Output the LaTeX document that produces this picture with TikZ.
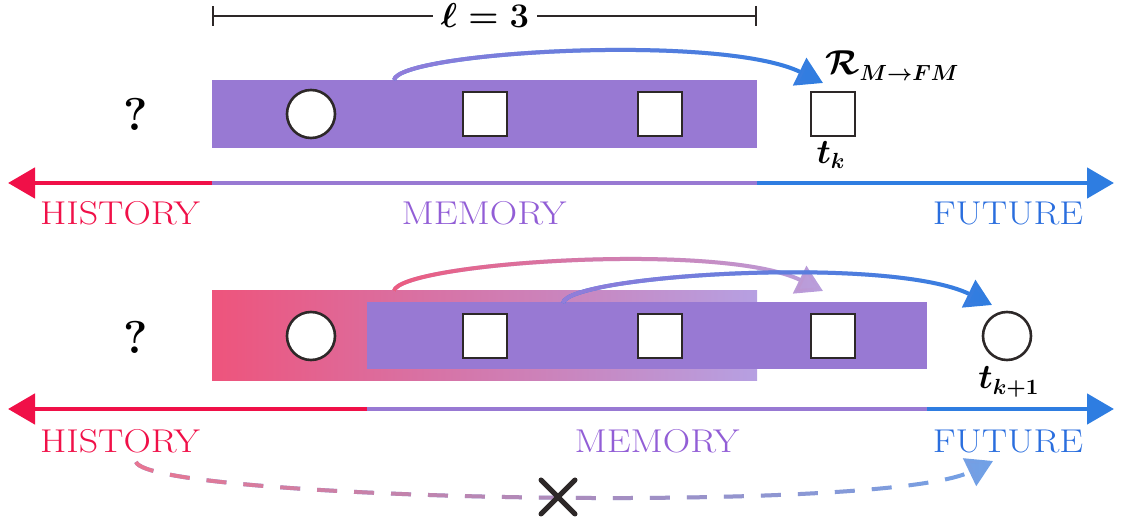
\documentclass[tikz,border=0pt]{standalone}
\usepackage{amsmath,amssymb}
\usetikzlibrary{arrows.meta,fadings,calc}
\definecolor{cred}{RGB}{240,16,72}
\definecolor{cpurple}{RGB}{152,121,211}
\definecolor{cpurpleA}{RGB}{148,126,218}
\definecolor{cblue}{RGB}{46,125,225}
\definecolor{cmemtxt}{RGB}{146,94,214}
\definecolor{cfuttxt}{RGB}{42,110,222}
\definecolor{cpink}{RGB}{236,92,128}
\definecolor{clilac}{RGB}{184,160,222}
\definecolor{cstroke}{RGB}{45,40,40}
\definecolor{gradL}{RGB}{238,84,124}
\definecolor{gradR}{RGB}{182,160,226}
\definecolor{dashL}{RGB}{233,118,146}
\definecolor{dashR}{RGB}{112,162,232}
\tikzfading[name=fadeoutright, left color=transparent!0, middle color=transparent!30, right color=transparent!100]
\newcommand{\wlbl}[1]{\scalebox{1.15}[1]{#1}}
\begin{document}
\begin{tikzpicture}[x=0.5pt,y=-0.5pt,
  sq/.style={rectangle,draw=cstroke,fill=white,line width=1.3pt,minimum size=22pt,inner sep=0pt},
  circ/.style={circle,draw=cstroke,fill=white,line width=1.3pt,minimum size=24pt,inner sep=0pt},
  band/.style={rectangle,inner sep=0pt,draw=none},
  lbl/.style={font=\fontsize{16.5}{20}\selectfont,inner sep=0pt},
  mathlbl/.style={font=\fontsize{16}{19}\selectfont\boldmath,inner sep=0pt},
  qmark/.style={font=\fontsize{23}{26}\selectfont\bfseries,inner sep=0pt},
  axisline/.style={line width=2.4pt},
  axtip/.style={-{Triangle[length=13.5pt,width=15pt]}},
  axtipL/.style={{Triangle[length=13.5pt,width=15pt]}-},
  bigtip/.style={-{Triangle[length=13pt,width=15pt]}},
  curv/.style={line width=2pt},
  fadecurv/.style={line width=2pt,path fading=fadeoutright},
  bracket/.style={line width=1.2pt,draw=cstroke},
  dashy/.style={dash pattern=on 10pt off 8.5pt},
]
\useasboundingbox (0,0) rectangle (1121,523);

% ---------------- top panel ----------------
\node[mathlbl,inner xsep=4pt] (ell) at (485,16) {$\ell = 3$};
\coordinate (brL) at (212,16);
\coordinate (brR) at (757,16);
\draw[bracket,{Bar[width=10pt]}-] (brL) -- (ell.west);
\draw[bracket,-{Bar[width=10pt]}] (ell.east) -- (brR);

\node[band,fill=cpurple,minimum width=272.5pt,minimum height=34pt] (mem1) at (484.5,114) {};
\node[qmark] (q1) at (136,114) {?};
\node[circ] (c1) at (311,114) {};
\node[sq] (s11) at (485,114) {};
\node[sq] (s12) at (660,114) {};
\node[sq] (s13) at (833,114) {};
\node[mathlbl] (tk) at (831,155) {$t_k$};
\node[mathlbl,anchor=base west] (rlab) at (825,75) {$\mathcal{R}_{M\to FM}$};

\coordinate (a1s) at (394,80);
\coordinate (a1e) at (823,83);
\draw[curv,cblue,bigtip] (a1s) .. controls +(5,-28) and +(-103,-50) .. (a1e);
\draw[fadecurv,cpurpleA,bigtip] (a1s) .. controls +(5,-28) and +(-103,-50) .. (a1e);

% axis 1
\coordinate (x1L) at (8,183);
\coordinate (x1a) at (212,183);
\coordinate (x1b) at (757,183);
\coordinate (x1R) at (1114,183);
\draw[axisline,cred,axtipL] (x1L) -- (x1a);
\draw[axisline,cpurple] (x1a) -- (x1b);
\draw[axisline,cblue,axtip] (x1b) -- (x1R);
\node[lbl,text=cred] (h1) at (120,213) {\wlbl{HISTORY}};
\node[lbl,text=cmemtxt] (m1) at (484,213) {\wlbl{MEMORY}};
\node[lbl,text=cfuttxt] (f1) at (1008,213) {\wlbl{FUTURE}};

% ---------------- bottom panel ----------------
\node[band,left color=gradL,right color=gradR,minimum width=272.5pt,minimum height=45pt] (hist2) at (484.5,336) {};
\node[band,fill=cpurple,minimum width=280pt,minimum height=33.5pt] (mem2) at (647,335.5) {};
\node[qmark] (q2) at (136,337) {?};
\node[circ] (c21) at (311,336) {};
\node[sq] (s21) at (485,336) {};
\node[sq] (s22) at (660,336) {};
\node[sq] (s23) at (833,336) {};
\node[circ] (c22) at (1007,336) {};
\node[mathlbl] (tk1) at (1009,382) {$t_{k+1}$};

\coordinate (a2s) at (394,291);
\coordinate (a2e) at (823,291);
\draw[curv,clilac,bigtip] (a2s) .. controls +(5,-28) and +(-103,-50) .. (a2e);
\draw[fadecurv,cpink,bigtip] (a2s) .. controls +(5,-28) and +(-103,-50) .. (a2e);

\coordinate (a3s) at (563,303);
\coordinate (a3e) at (992,305);
\draw[curv,cblue,bigtip] (a3s) .. controls +(5,-28) and +(-103,-50) .. (a3e);
\draw[fadecurv,cpurpleA,bigtip] (a3s) .. controls +(5,-28) and +(-103,-50) .. (a3e);

% axis 2
\coordinate (x2L) at (8,409);
\coordinate (x2a) at (367,409);
\coordinate (x2b) at (927,409);
\coordinate (x2R) at (1114,409);
\draw[axisline,cred,axtipL] (x2L) -- (x2a);
\draw[axisline,cpurple] (x2a) -- (x2b);
\draw[axisline,cblue,axtip] (x2b) -- (x2R);
\node[lbl,text=cred] (h2) at (120,441) {\wlbl{HISTORY}};
\node[lbl,text=cmemtxt] (m2) at (657,441) {\wlbl{MEMORY}};
\node[lbl,text=cfuttxt] (f2) at (1008,441) {\wlbl{FUTURE}};

% dashed impossible link
\coordinate (ds) at (136,462);
\coordinate (de) at (993,461);
\draw[curv,dashR,dashy,bigtip] (ds) .. controls +(14,38) and +(-113,54) .. (de);
\draw[fadecurv,dashL,dashy,bigtip] (ds) .. controls +(14,38) and +(-113,54) .. (de);

\coordinate (xc) at (558,497);
\draw[line width=2.5pt,cstroke,line cap=round] (xc) +(-17,-17) -- +(17,17) +(17,-17) -- +(-17,17);
\end{tikzpicture}
\end{document}
